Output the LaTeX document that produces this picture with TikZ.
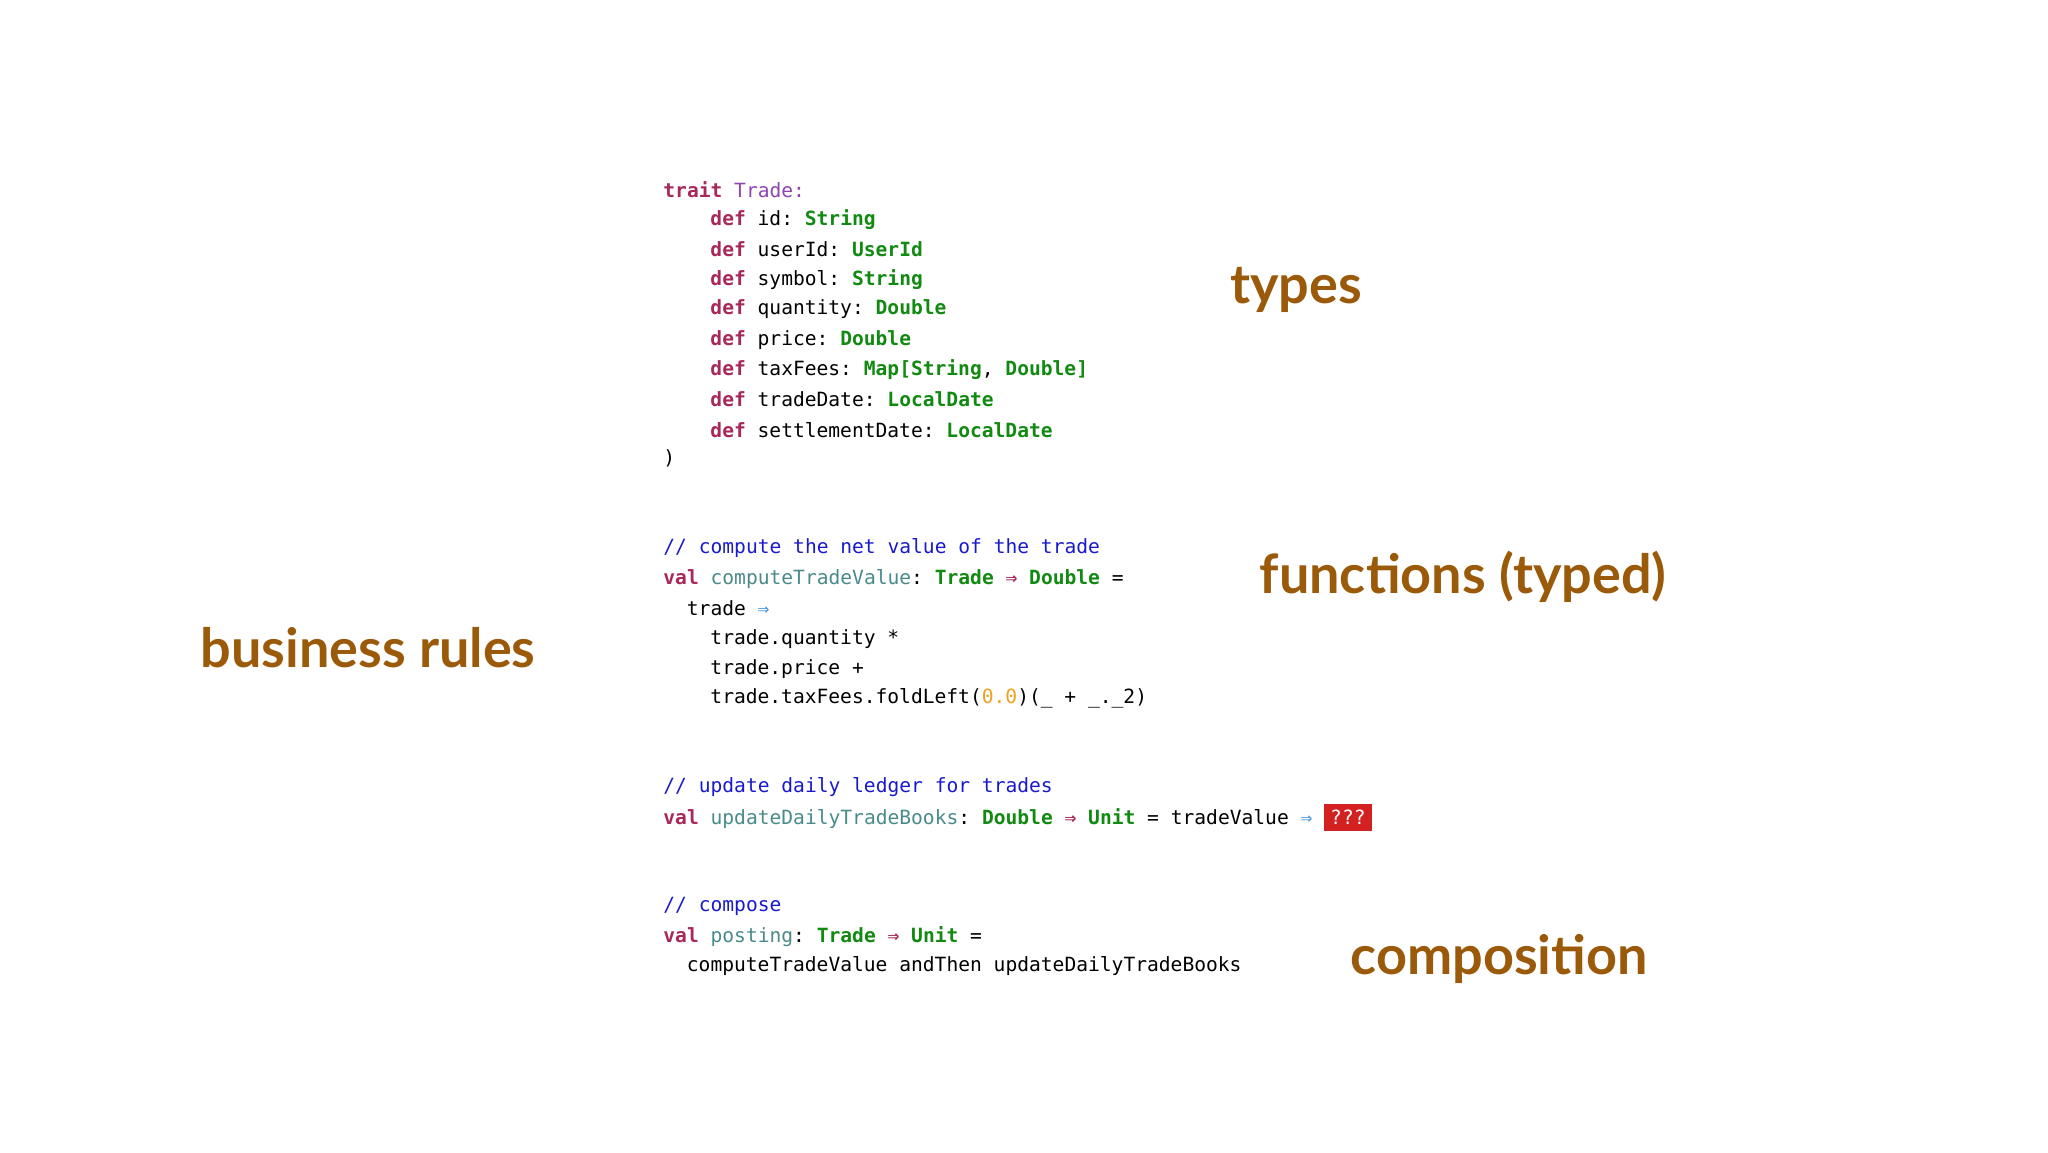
\documentclass[tikz,border=0pt]{standalone}
\usepackage{fontspec}
\setmonofont{DejaVu Sans Mono}
\newfontfamily\titlefont{Lato}
\definecolor{kw}{HTML}{A8285A}
\definecolor{ty}{HTML}{128A12}
\definecolor{nm}{HTML}{4A8A8A}
\definecolor{tr}{HTML}{8E44AD}
\definecolor{cm}{HTML}{1A1ACC}
\definecolor{num}{HTML}{F0A020}
\definecolor{ar}{HTML}{3A8FD8}
\definecolor{hot}{HTML}{D32020}
\definecolor{brown}{HTML}{9A5A0A}
\newcommand{\kw}[1]{\textcolor{kw}{\bfseries #1}}
\newcommand{\ty}[1]{\textcolor{ty}{\bfseries #1}}
\newcommand{\nm}[1]{\textcolor{nm}{#1}}
\newcommand{\cmt}[1]{\textcolor{cm}{#1}}
\newcommand{\rar}{\textcolor{kw}{\bfseries ⇒}}
\tikzset{code/.style={anchor=west,inner sep=0pt,font=\ttfamily\fontsize{9.8}{12}\selectfont},
title/.style={text=brown,font=\titlefont\bfseries\fontsize{27}{30}\selectfont,inner sep=0pt}}
\begin{document}
\begin{tikzpicture}[x=0.5pt,y=-0.5pt]
\useasboundingbox (0,0) rectangle (2048,1152);
\def\X{663}\def\I{\hskip2.4em}
\node[code] (l1) at (\X,189.4) {\kw{trait} \textcolor{tr}{Trade:}};
\node[code] (l2) at (\X,219.5) {\I\kw{def} id: \ty{String}};
\node[code] (l3) at (\X,249.5) {\I\kw{def} userId: \ty{UserId}};
\node[code] (l4) at (\X,279.5) {\I\kw{def} symbol: \ty{String}};
\node[code] (l5) at (\X,309.5) {\I\kw{def} quantity: \ty{Double}};
\node[code] (l6) at (\X,339.6) {\I\kw{def} price: \ty{Double}};
\node[code] (l7) at (\X,369.6) {\I\kw{def} taxFees: \ty{Map[String}, \ty{Double]}};
\node[code] (l8) at (\X,399.6) {\I\kw{def} tradeDate: \ty{LocalDate}};
\node[code] (l9) at (\X,429.7) {\I\kw{def} settlementDate: \ty{LocalDate}};
\node[code] (l10) at (\X,458.4) {)};
\node[code] (m1) at (\X,548.5) {\cmt{// compute the net value of the trade}};
\node[code] (m2) at (\X,578.6) {\kw{val} \nm{computeTradeValue}: \ty{Trade} \rar{} \ty{Double} =};
\node[code] (m3) at (\X,608.6) {\hskip1.2em trade \textcolor{ar}{⇒}};
\node[code] (m4) at (\X,638.6) {\I trade.quantity *};
\node[code] (m5) at (\X,668.7) {\I trade.price +};
\node[code] (m6) at (\X,698.7) {\I trade.taxFees.foldLeft(\textcolor{num}{0.0})(\_ + \_.\_2)};
\node[code] (n1) at (\X,787.5) {\cmt{// update daily ledger for trades}};
\node[code] (n2) at (\X,817.6) {\kw{val} \nm{updateDailyTradeBooks}: \ty{Double} \rar{} \ty{Unit} = tradeValue \textcolor{ar}{⇒} \colorbox{hot}{\textcolor{white}{???}}};
\node[code] (o1) at (\X,906.4) {\cmt{// compose}};
\node[code] (o2) at (\X,936.4) {\kw{val} \nm{posting}: \ty{Trade} \rar{} \ty{Unit} =};
\node[code] (o3) at (\X,966.4) {\hskip1.2em computeTradeValue andThen updateDailyTradeBooks};
\node[title] (t1) at (1296,290) {types};
\node[title] (t2) at (1463,577) {functions (typed)};
\node[title] (t3) at (368,648) {business rules};
\node[title] (t4) at (1499,959) {composition};
\end{tikzpicture}
\end{document}
